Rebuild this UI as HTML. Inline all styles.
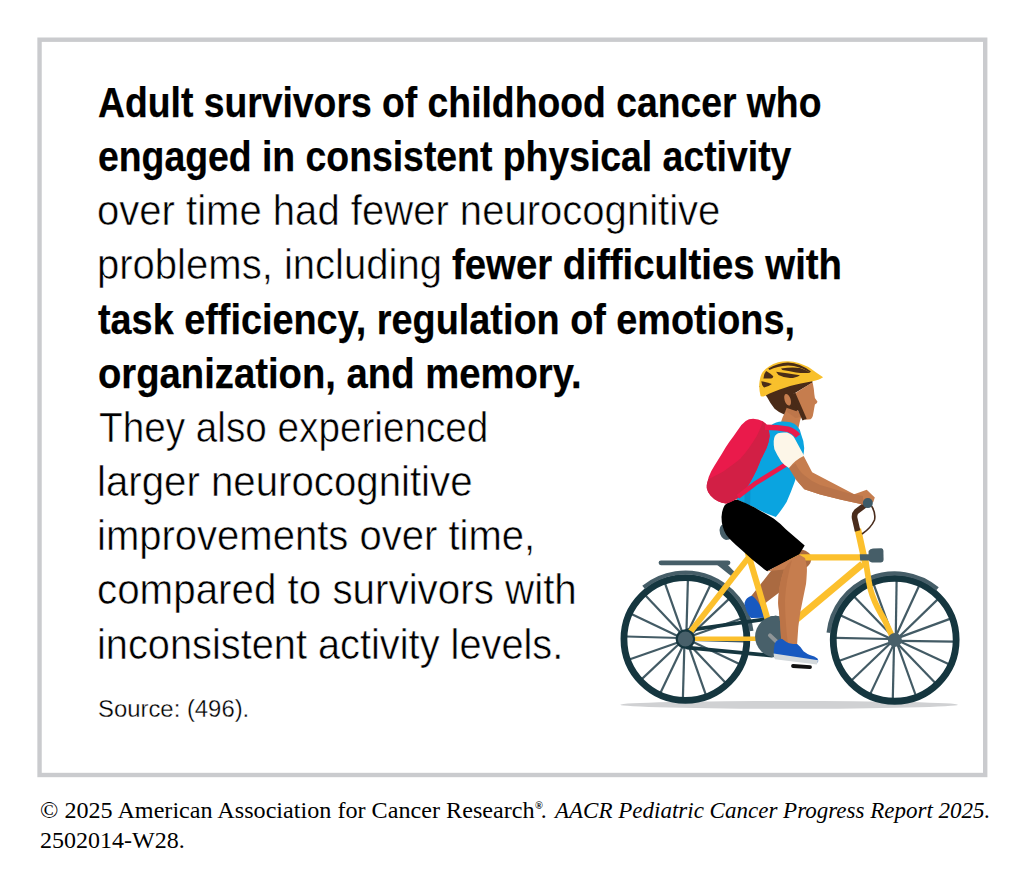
<!DOCTYPE html>
<html lang="en">
<head>
<meta charset="utf-8">
<title>Adult survivors of childhood cancer and physical activity</title>
<style>
html,body{margin:0;padding:0;background:#fff;}
body{width:1025px;height:887px;position:relative;overflow:hidden;}
.t{position:absolute;left:0;top:0;font-family:"Liberation Sans",Arial,sans-serif;font-size:43.4px;line-height:54.15px;color:#000;}
.ln{position:absolute;white-space:pre;transform-origin:0 0;}
.b{font-weight:bold;-webkit-text-stroke:0.25px #000;}
.ln:not(.b){-webkit-text-stroke:0.55px #fff;}
.src{-webkit-text-stroke:0.3px #fff;position:absolute;left:99px;top:0;font-family:"Liberation Sans",Arial,sans-serif;font-size:23px;white-space:pre;color:#000;transform-origin:0 0;}
.foot{position:absolute;left:40px;font-family:"Liberation Serif","Times New Roman",serif;font-size:23.8px;white-space:pre;color:#000;transform-origin:0 0;}
svg{position:absolute;left:0;top:0;}
</style>
</head>
<body>
<div class="t">
<div class="ln b" style="left:98.44px;top:75.00px;transform:scaleX(0.8598);">Adult survivors of childhood cancer who</div>
<div class="ln b" style="left:97.58px;top:129.15px;transform:scaleX(0.8609);">engaged in consistent physical activity</div>
<div class="ln" style="left:97.46px;top:183.30px;transform:scaleX(0.9231);">over time had fewer neurocognitive</div>
<div class="ln" style="left:96.53px;top:237.45px;transform:scaleX(0.9226);">problems, including</div>
<div class="ln b" style="left:452.02px;top:237.45px;transform:scaleX(0.884);">fewer difficulties with</div>
<div class="ln b" style="left:98.43px;top:291.60px;transform:scaleX(0.8715);">task efficiency, regulation of emotions,</div>
<div class="ln b" style="left:97.54px;top:345.75px;transform:scaleX(0.8813);">organization, and memory.</div>
<div class="ln" style="left:98.66px;top:399.90px;transform:scaleX(0.8918);">They also experienced</div>
<div class="ln" style="left:96.52px;top:454.05px;transform:scaleX(0.9267);">larger neurocognitive</div>
<div class="ln" style="left:96.53px;top:508.20px;transform:scaleX(0.9224);">improvements over time,</div>
<div class="ln" style="left:97.44px;top:562.35px;transform:scaleX(0.9297);">compared to survivors with</div>
<div class="ln" style="left:96.55px;top:616.50px;transform:scaleX(0.9163);">inconsistent activity levels.</div>
</div>
<div class="src" style="top:695.5px;left:98.46px;transform:scaleX(1.0378);">Source: (496).</div>
<div class="foot" style="top:797px;left:39.98px;transform:scaleX(1.015);">© 2025 American Association for Cancer Research</div>
<div class="foot" style="top:800.5px;left:534.9px;font-size:10.5px;line-height:10px;font-weight:bold;">®</div>
<div class="foot" style="top:797px;left:540.67px;">.</div>
<div class="foot" style="top:797px;left:554.87px;transform:scaleX(0.9668);"><i>AACR Pediatric Cancer Progress Report 2025.</i></div>
<div class="foot" style="top:827px;left:39.69px;transform:scaleX(1.0099);">2502014-W28.</div>
<!--BIKE--><svg width="1025" height="887" viewBox="0 0 1025 887"><rect x="39.55" y="39.7" width="945.65" height="735.3" fill="none" stroke="#cacbce" stroke-width="4.4"/>
<ellipse cx="789.1" cy="704.85" rx="168.8" ry="3.9" fill="#d0d1d3"/>
<g stroke="#435b65" stroke-width="2.2"><line x1="691.3" y1="640.0" x2="744.3" y2="641.5"/><line x1="691.1" y1="640.9" x2="738.9" y2="663.8"/><line x1="688.9" y1="643.9" x2="725.3" y2="682.4"/><line x1="688.1" y1="644.3" x2="705.7" y2="694.4"/><line x1="684.4" y1="644.9" x2="682.9" y2="697.9"/><line x1="683.5" y1="644.7" x2="660.6" y2="692.5"/><line x1="680.5" y1="642.5" x2="642.0" y2="678.9"/><line x1="680.1" y1="641.7" x2="630.0" y2="659.3"/><line x1="679.5" y1="638.0" x2="626.5" y2="636.5"/><line x1="679.7" y1="637.1" x2="631.9" y2="614.2"/><line x1="681.9" y1="634.1" x2="645.5" y2="595.6"/><line x1="682.7" y1="633.7" x2="665.1" y2="583.6"/><line x1="686.4" y1="633.1" x2="687.9" y2="580.1"/><line x1="687.3" y1="633.3" x2="710.2" y2="585.5"/><line x1="690.3" y1="635.5" x2="728.8" y2="599.1"/><line x1="690.7" y1="636.3" x2="740.8" y2="618.7"/></g><circle cx="685.4" cy="639" r="61.45" fill="none" stroke="#15363f" stroke-width="6.8"/>
<g stroke="#435b65" stroke-width="2.2"><line x1="900.8" y1="640.8" x2="953.7" y2="641.7"/><line x1="900.6" y1="641.7" x2="948.5" y2="664.1"/><line x1="898.5" y1="644.7" x2="935.1" y2="682.8"/><line x1="897.7" y1="645.2" x2="915.6" y2="695.0"/><line x1="894.0" y1="645.8" x2="892.8" y2="698.8"/><line x1="893.1" y1="645.6" x2="870.4" y2="693.6"/><line x1="890.1" y1="643.5" x2="851.7" y2="680.2"/><line x1="889.6" y1="642.7" x2="839.5" y2="660.7"/><line x1="889.0" y1="639.0" x2="835.7" y2="637.9"/><line x1="889.2" y1="638.1" x2="840.9" y2="615.5"/><line x1="891.3" y1="635.1" x2="854.3" y2="596.8"/><line x1="892.1" y1="634.6" x2="873.8" y2="584.6"/><line x1="895.8" y1="634.0" x2="896.6" y2="580.8"/><line x1="896.7" y1="634.2" x2="919.0" y2="586.0"/><line x1="899.7" y1="636.3" x2="937.7" y2="599.4"/><line x1="900.2" y1="637.1" x2="949.9" y2="618.9"/></g><circle cx="894.7" cy="639.8" r="61.45" fill="none" stroke="#15363f" stroke-width="6.8"/>
<path d="M643.6 587.3 A66.5 66.5 0 0 1 751.4 630.9" fill="none" stroke="#465e68" stroke-width="4.2"/>
<path d="M828.6 632.8 A66.5 66.5 0 0 1 937.4 588.9" fill="none" stroke="#465e68" stroke-width="4.2"/>
<g stroke="#465e68" stroke-linecap="round" fill="none"><line x1="661" y1="562.8" x2="728" y2="562.8" stroke-width="4.8"/></g><path d="M716 564 L727 564 L737 574.5 L733 577.5 Z" fill="#465e68"/><g></g>
<path d="M719.5 530 Q720 523 727 523.5 Q734 525 734 533 Q733 540 726 540 Q720 538 719.5 530 Z" fill="#465e68"/>
<path d="M797 549 Q807 549 811.5 556 Q812 563 807 567 L792 580 L779.2 592.6 L766.7 602.1 L758 611 L748 600 L760 585 L770.5 571.5 L786 556 Z" fill="#aa6a41"/>
<path d="M744.5 603 Q746 597 751.9 595.8 Q756 598 760.4 605.9 Q764 611 764 617.8 L751 618 Q745.5 612 744.5 603 Z" fill="#1859c0"/>
<g stroke="#15363f" stroke-width="3.8" stroke-linecap="round"><line x1="687.4" y1="630.4" x2="775.9" y2="617.6"/><line x1="687.4" y1="647.6" x2="771.9" y2="655.6"/></g>
<g stroke="#fcc02d" stroke-linejoin="round" fill="none"><line x1="749" y1="557" x2="686.4" y2="637" stroke-width="5.8"/><line x1="689.4" y1="638.8" x2="775.9" y2="638.8" stroke-width="4.4"/><line x1="747.6" y1="552" x2="772.8" y2="636.6" stroke-width="6.1"/><line x1="749" y1="557.4" x2="862" y2="557.4" stroke-width="6.4"/><line x1="862.5" y1="564" x2="775.9" y2="636.6" stroke-width="7"/><path d="M857.8 529 L863.2 553.8 L866 566" stroke-width="6.6"/><path d="M865.5 560 L868.9 581.6 Q870 589 872.2 595 Q874.5 601.5 877.5 607.4 Q881 614 885.2 621.3 L891.8 635.5" stroke-width="5.8"/></g>
<circle cx="685.4" cy="639" r="8.7" fill="#48606a" stroke="#15363f" stroke-width="2.2"/>
<circle cx="894.9" cy="639.9" r="7" fill="#48606a"/>
<circle cx="775.9" cy="636.6" r="20.8" fill="#48606a"/>
<line x1="770" y1="635.4" x2="778.5" y2="643.5" stroke="#8f9597" stroke-width="4" stroke-linecap="round"/>
<path d="M859.8 554.2 H871 V560.6 H860.2 Z" fill="#465e68"/><path d="M868.6 551 Q870 548.6 873 548.4 L881.5 548.2 Q883.3 548.5 883.4 550.5 L883.6 560 Q883.4 562.3 881 562.4 L872 562.5 Q869 562 868.5 559 Z" fill="#465e68"/>
<path d="M867.8 503 L856.5 511.5 Q854 514 854.6 518 L857.6 531" fill="none" stroke="#4a2c1c" stroke-width="5.6" stroke-linejoin="round"/>
<path d="M871.5 506 Q876 513 874.5 520 Q871 528 862 534" fill="none" stroke="#4a2c1c" stroke-width="1.6"/>
<path d="M786.4 406 L797 409 L801.5 416 L800 421 L798 430 L781 430 L781.3 421 Q782.5 417 784.2 414 Z" fill="#c67d4e"/>
<path d="M786.4 406 L797 409 L800.5 417 L795.5 418 Q790 414 787 412 Z" fill="#b87248" opacity="0.6"/>
<path d="M770.6 425.6 Q776 421.8 781.9 421.6 Q786 421.5 790.4 422.2 Q795 423.5 797 426 Q800 429 801 434 Q804 441 804.2 448 Q804 456 800 466 Q797 474 794.7 481.7 Q791 492 786.6 502 Q781 511 775.8 516.9 Q762 512 754.7 507.6 Q745 503 737 499.5 L735 470 L750 440 Z" fill="#0aa4e0"/>
<path d="M744.5 488 L750.5 484 L750.1 510.5 L744.5 507 Z" fill="#0a92cc"/>
<path d="M724.9 504.9 Q730 500.5 737 499.5 Q746 503 754.7 507.6 Q764 513 773.6 518.4 Q780 523 785.8 529.2 L804.7 545.5 L799.1 554.5 L767.1 571.2 Q753 561 741.1 549.5 Q730 540 726.2 534.7 Q721.5 527 721.5 517 Q722 509 724.9 504.9 Z" fill="#000"/>
<path d="M767.1 571.2 L799.1 554.5 L805 558 Q807.2 566 806.9 571.5 Q806.5 580 806 584 L803.1 598.3 L800.2 612.7 L798.3 627 L797 645.5 L781.5 645.5 L780.1 622.3 L778.2 603.1 Q778.5 595 779.2 588.7 Q781 578 784 569.6 Z" fill="#c67d4e"/>
<path d="M784 569.6 Q788 563 792 560 Q786 580 785 600 Q785 620 788 645.5 L781.5 645.5 L780.1 622.3 L778.2 603.1 Q778.5 595 779.2 588.7 Q781 578 784 569.6 Z" fill="#bc7447"/>
<path d="M774.7 644.1 Q776 639.5 781.9 638.7 Q786 642 789.1 643.2 Q794 644.2 797.2 644.1 Q801 647 803.5 651.3 Q807 654 809.8 654.9 Q815 656 817.5 658.5 Q819 661 817.5 662.5 L774 656.5 Q773.2 650 774.7 644.1 Z" fill="#1859c0"/>
<path d="M773.6 653.6 L818.2 660.2 L816.8 664.6 L775 659.2 Q773.6 657 773.6 653.6 Z" fill="#d4d9dc"/>
<line x1="793" y1="666" x2="810" y2="667.2" stroke="#111" stroke-width="3.8" stroke-linecap="round"/>
<path d="M753.2 418.7 Q758.5 419 762.7 421.3 Q766 423 767.5 427 Q769.8 432 769.6 436.3 Q769 442 766.8 447.5 Q764.3 453 761.2 458.8 Q759 464.5 756.6 470.1 Q753.5 476.5 750.1 482.5 Q746 489.5 740.7 495.7 Q738 498 735.4 499.5 Q731 502.3 726.4 503.4 Q722 503.5 718 501.3 Q713.5 499 710.5 495.5 Q707.5 492 706.8 488.2 Q706.6 485 707.3 482.5 Q708.5 476.5 711.2 471.3 Q714.5 465.5 718 460 Q721.5 454.5 725.6 447.5 Q729.5 441.5 733.5 436.3 Q737.5 430.5 741.4 425 Q745 420.5 749 419.2 Q751 418.7 753.2 418.7 Z" fill="#ea1a4b"/>
<path d="M762.5 421.2 Q766 423 767.5 427 Q769.8 432 769.6 436.3 Q769 442 766.8 447.5 Q764.3 453 761.2 458.8 Q759 464.5 756.6 470.1 Q753.5 476.5 750.1 482.5 Q746 489.5 740.7 495.7 Q738 498 735.4 499.5 Q731 502.3 726.4 503.4 Q722 503.5 718 501.3 Q713.5 499 710.5 495.5 Q707.5 492 706.8 488.2 Q706.6 485 707.3 482.5 L708.4 479.2 Q712 477.7 715.1 475.8 Q719.5 473.8 723.6 471.3 Q727.5 468.7 731.5 465.6 Q736 462.4 740.3 458.8 Q745 453.5 749.3 447.5 Q753.2 442 756.6 436.3 Q759.5 430.5 761.7 425 Z" fill="#d21f45"/>
<path d="M765 427.2 Q778 427.3 788 429.3 Q794 431 798 436" fill="none" stroke="#ea1a4b" stroke-width="5.6"/>
<path d="M787.5 463.5 L755 483.6 L738 496.8" fill="none" stroke="#ea1a4b" stroke-width="4.6"/>
<path d="M773.7 441.1 Q774 435 778 433.3 Q782 432 787 432.6 Q792 434 794.7 438.4 L804.2 456 L789.3 468.2 Q784 465 781.2 461.4 Q777 455 774.4 449.2 Q773.5 445 773.7 441.1 Z" fill="#fdf6e8"/>
<path d="M789.1 468.1 Q795 460 803.7 456.1 L811.9 471.7 Q812.5 472.5 813.1 472.8 L854.2 494.2 L866.7 489.8 L874.8 497.6 L873.2 502.3 L863 504.4 L841.2 499.8 L820.1 494.5 L804.3 489.2 L796.7 480.4 Z" fill="#c67d4e"/>
<path d="M789.1 468.1 Q792 465 795.5 463.5 Q799 471 804.3 475.2 Q811 481 820.1 485.1 L845 492.2 L863 496 L863 504.4 L841.2 499.8 L820.1 494.5 L804.3 489.2 L796.7 480.4 Z" fill="#b9744a"/>
<circle cx="867.8" cy="503.1" r="5" fill="#3e5a67"/>
<path d="M759 386 L767.3 397.4 Q770.1 403 774.6 408.7 Q779 412.5 784.2 414.6 L786.8 407.5 L792 408.5 L798.5 410.5 L796 400 L792.5 394.6 L812.6 382.6 L812 379.5 L785 383 Z" fill="#4a2b18"/>
<path d="M793.2 394.4 L811.7 382.8 L812.8 383.3 Q814 389 814.3 393.9 L814.9 398.1 Q816.5 400 817.5 401.8 Q817.2 403.6 814.9 404.5 Q814.2 408 813.8 410.8 L812.8 416.1 Q812 418.6 810.6 419.3 L805.3 419.8 Z" fill="#c67d4e"/>
<ellipse cx="787.6" cy="399.8" rx="3" ry="6.1" transform="rotate(-18 787.6 399.8)" fill="#c67d4e"/>
<path d="M793.2 393.6 L804.6 419.6" stroke="#4a2b18" stroke-width="4.6" fill="none"/><path d="M786.8 406.5 L797 410" stroke="#4a2b18" stroke-width="2.4" fill="none"/>
<path d="M760.6 395.9 Q758.5 388 759.6 381.2 Q760.5 375 762.7 372 Q765.5 368.5 769 366.4 Q773 363.6 778.2 362.2 Q783 361 788 361.2 Q793.5 361.3 798.6 362.9 Q804 364.8 808.4 367.1 Q812 369.5 815.4 372 Q819.5 374.7 823.1 377.3 Q820.5 379 818.2 379.8 Q815 380.8 811.2 381.5 Q806 382.6 800.7 383.6 Q795 384.8 790.1 386.1 Q785 387.6 779.6 389.6 Q774 391.8 769 393.8 Q766 395.3 764.1 396.3 Q762 396.8 760.6 395.9 Z" fill="#f8c02c"/>
<g fill="#4a2c17"><path d="M768.3 368.5 Q778 363 788 362.5 Q800 363 811 371.5 L809.5 372.3 Q800 366 788 365.6 Q777 366.2 769.5 370 Z"/><path d="M781 368.6 Q792 366.5 800 368 Q806 369.8 810.5 372.8 Q803 373.6 796 372.4 Q788 371 782.4 370 Z"/><path d="M776.1 371.7 Q786 373 800 375.2 Q796 378 790 378 Q783 377.3 778.5 375 Z"/><path d="M766.2 371 Q770.5 373.5 773.3 376.3 Q773 378.5 771 378.6 L763.4 378.4 Q763.5 374 766.2 371 Z"/><path d="M761.3 381.2 Q767 382.2 771.9 384 Q768.5 386.6 764.1 387.5 Q761.5 385 761.3 381.2 Z"/></g></svg><!--/BIKE-->
</body>
</html>
